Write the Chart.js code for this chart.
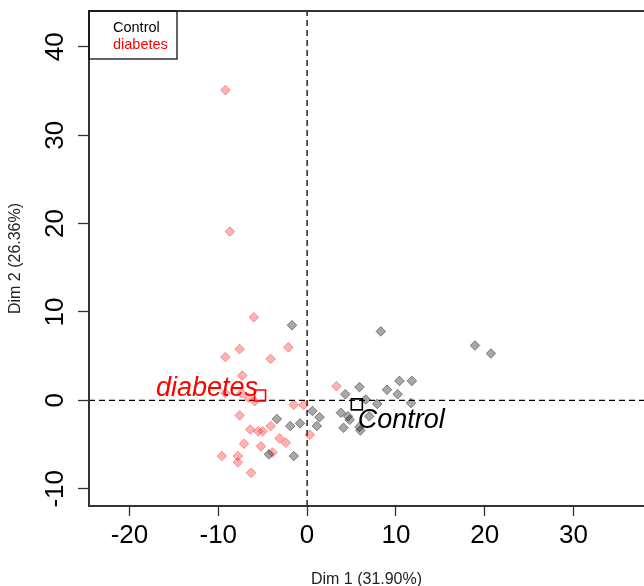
<!DOCTYPE html>
<html lang="en">
<head>
<meta charset="UTF-8">
<title>Individuals factor map</title>
<script src="https://cdn.jsdelivr.net/npm/chart.js"></script>
<style>
  html, body { margin: 0; padding: 0; background: #fff; }
  #wrap { width: 644px; height: 586px; }
</style>
</head>
<body>
<div id="wrap"><canvas id="chart" width="644" height="586"></canvas></div>
<script>
// axis ranges and ticks
const xRange = [-24.56, 37.94];
const yRange = [-11.95, 44.05];
const xTicks = [-20, -10, 0, 10, 20, 30];
const yTicks = [-10, 0, 10, 20, 30, 40];
const xTitle = "Dim 1 (31.90%)";
const yTitle = "Dim 2 (26.36%)";

// groups
const groups = ["Control", "diabetes"];
const groupColors = ["#000000", "#ff0000"];

// individuals
const controlX = [-1.7, 8.3, 18.9, 20.7, 5.9, 4.3, 9.0, 10.4, 11.8, 10.2, 6.6, 7.9, 11.7, 0.6,
                  1.4, 1.1, 3.8, 4.6, 4.8, 4.1, 7.0, 5.9, 6.0, -3.4, -1.9, -0.8, -4.3, -1.5];
const controlY = [8.5, 7.8, 6.2, 5.3, 1.5, 0.7, 1.2, 2.2, 2.2, 0.7, 0.1, -0.4, -0.3, -1.2,
                  -1.9, -2.9, -1.4, -1.8, -2.2, -3.1, -1.8, -3.0, -3.4, -2.1, -2.9, -2.6, -6.1, -6.3];
const diabetesX = [-9.2, -8.7, -6.0, -7.6, -9.2, -2.1, -4.1, -7.3, -9.2, -7.4, -6.6, -5.9, -1.5, -0.4, -7.6,
                   0.3, -6.4, -5.5, -5.0, -4.1, -3.1, -2.4, -7.1, -5.2, -3.9, -9.6, -7.8, -7.8, -6.3, 3.3];
const diabetesY = [35.1, 19.1, 9.4, 5.8, 4.9, 6.0, 4.7, 2.8, 0.8, 0.8, 0.3, -0.1, -0.5, -0.5, -1.7,
                   -3.9, -3.3, -3.5, -3.5, -2.9, -4.3, -4.8, -4.9, -5.2, -5.9, -6.3, -6.3, -7.0, -8.2, 1.6];

// group centroids (Control, diabetes)
const centroidX = [5.6, -5.3];
const centroidY = [-0.45, 0.55];

const toPoints = (xs, ys) => xs.map((x, i) => ({ x: x, y: ys[i] }));

const FONT = "'Liberation Sans', Arial, sans-serif";

// box round the plot, open on the right like the original crop
const boxPlugin = {
  id: "box",
  afterDatasetsDraw(chart) {
    const { ctx, chartArea: a } = chart;
    ctx.save();
    ctx.strokeStyle = "#333";
    ctx.lineWidth = 2;
    ctx.beginPath();
    ctx.moveTo(a.right + 5, a.top);
    ctx.lineTo(a.left, a.top);
    ctx.lineTo(a.left, a.bottom);
    ctx.lineTo(a.right + 5, a.bottom);
    ctx.stroke();
    ctx.restore();
  }
};

// centroid labels
const labelPlugin = {
  id: "groupLabels",
  afterDatasetsDraw(chart) {
    const { ctx, scales } = chart;
    ctx.save();
    ctx.font = "italic 27px " + FONT;
    ctx.textBaseline = "alphabetic";
    // Control: below right of its square
    ctx.fillStyle = groupColors[0];
    ctx.textAlign = "left";
    ctx.fillText(groups[0], scales.x.getPixelForValue(centroidX[0]) + 1,
                 scales.y.getPixelForValue(centroidY[0]) + 24);
    // diabetes: left of its square
    ctx.fillStyle = groupColors[1];
    ctx.textAlign = "right";
    ctx.fillText(groups[1], scales.x.getPixelForValue(centroidX[1]) - 2,
                 scales.y.getPixelForValue(centroidY[1]));
    ctx.restore();
  }
};

// legend box in the top-left corner
const legendPlugin = {
  id: "cornerLegend",
  afterDraw(chart) {
    const { ctx, chartArea: a } = chart;
    ctx.save();
    ctx.strokeStyle = "#111";
    ctx.lineWidth = 1.3;
    ctx.strokeRect(a.left, a.top, 88, 48);
    ctx.font = "14.5px " + FONT;
    ctx.textAlign = "left";
    ctx.textBaseline = "middle";
    groups.forEach((g, i) => {
      ctx.fillStyle = groupColors[i];
      ctx.fillText(g, a.left + 24, a.top + 17 + i * 17);
    });
    ctx.restore();
  }
};

new Chart(document.getElementById("chart"), {
  type: "scatter",
  data: {
    datasets: [
      {
        label: "centroids",
        data: toPoints(centroidX, centroidY),
        pointStyle: "rect",
        pointRadius: 7.8,
        pointBackgroundColor: "rgba(255,255,255,0)",
        pointBorderColor: groupColors,
        pointBorderWidth: 1.6
      },
      {
        label: groups[0],
        data: toPoints(controlX, controlY),
        pointStyle: "rectRot",
        pointRadius: 4.8,
        pointBackgroundColor: "rgba(0,0,0,0.34)",
        pointBorderColor: "rgba(0,0,0,0.42)",
        pointBorderWidth: 1
      },
      {
        label: groups[1],
        data: toPoints(diabetesX, diabetesY),
        pointStyle: "rectRot",
        pointRadius: 4.8,
        pointBackgroundColor: "rgba(255,0,0,0.3)",
        pointBorderColor: "rgba(230,0,0,0.35)",
        pointBorderWidth: 1
      },
      {
        label: "h0",
        type: "line",
        data: [{ x: xRange[0], y: 0 }, { x: xRange[1], y: 0 }],
        borderColor: "#000",
        borderWidth: 1.3,
        borderDash: [6, 4],
        pointRadius: 0
      },
      {
        label: "v0",
        type: "line",
        data: [{ x: 0, y: yRange[0] }, { x: 0, y: yRange[1] }],
        borderColor: "#000",
        borderWidth: 1.3,
        borderDash: [6, 4],
        pointRadius: 0
      }
    ]
  },
  options: {
    responsive: false,
    animation: false,
    layout: { autoPadding: false, padding: { top: 11, right: 0, left: 0, bottom: 0 } },
    plugins: { legend: { display: false }, tooltip: { enabled: false } },
    scales: {
      x: {
        type: "linear",
        min: xRange[0],
        max: xRange[1],
        afterBuildTicks: s => { s.ticks = xTicks.map(v => ({ value: v })); },
        afterFit: s => { s.height = 80; s.paddingLeft = 0; s.paddingRight = 0; },
        grid: { drawOnChartArea: false, drawTicks: true, tickLength: 10, color: "#333", tickWidth: 1.3 },
        border: { display: false },
        ticks: { autoSkip: false, maxRotation: 0, color: "#000", padding: 4, font: { family: FONT, size: 26 } },
        title: { display: true, text: xTitle, color: "#222", padding: 0, font: { family: FONT, size: 16, lineHeight: 0.8 } }
      },
      y: {
        type: "linear",
        min: yRange[0],
        max: yRange[1],
        afterBuildTicks: s => { s.ticks = yTicks.map(v => ({ value: v })); },
        afterFit: s => { s.width = 89; s.paddingTop = 0; s.paddingBottom = 0; },
        grid: { drawOnChartArea: false, drawTicks: true, tickLength: 11, color: "#333", tickWidth: 1.3 },
        border: { display: false },
        ticks: { autoSkip: false, minRotation: 90, maxRotation: 90, crossAlign: "center", color: "#000", padding: 3, font: { family: FONT, size: 26 } },
        title: { display: true, text: yTitle, color: "#222", padding: { top: 6, bottom: 0 }, font: { family: FONT, size: 16, lineHeight: 1.2 } }
      }
    }
  },
  plugins: [boxPlugin, labelPlugin, legendPlugin]
});
</script>
</body>
</html>
